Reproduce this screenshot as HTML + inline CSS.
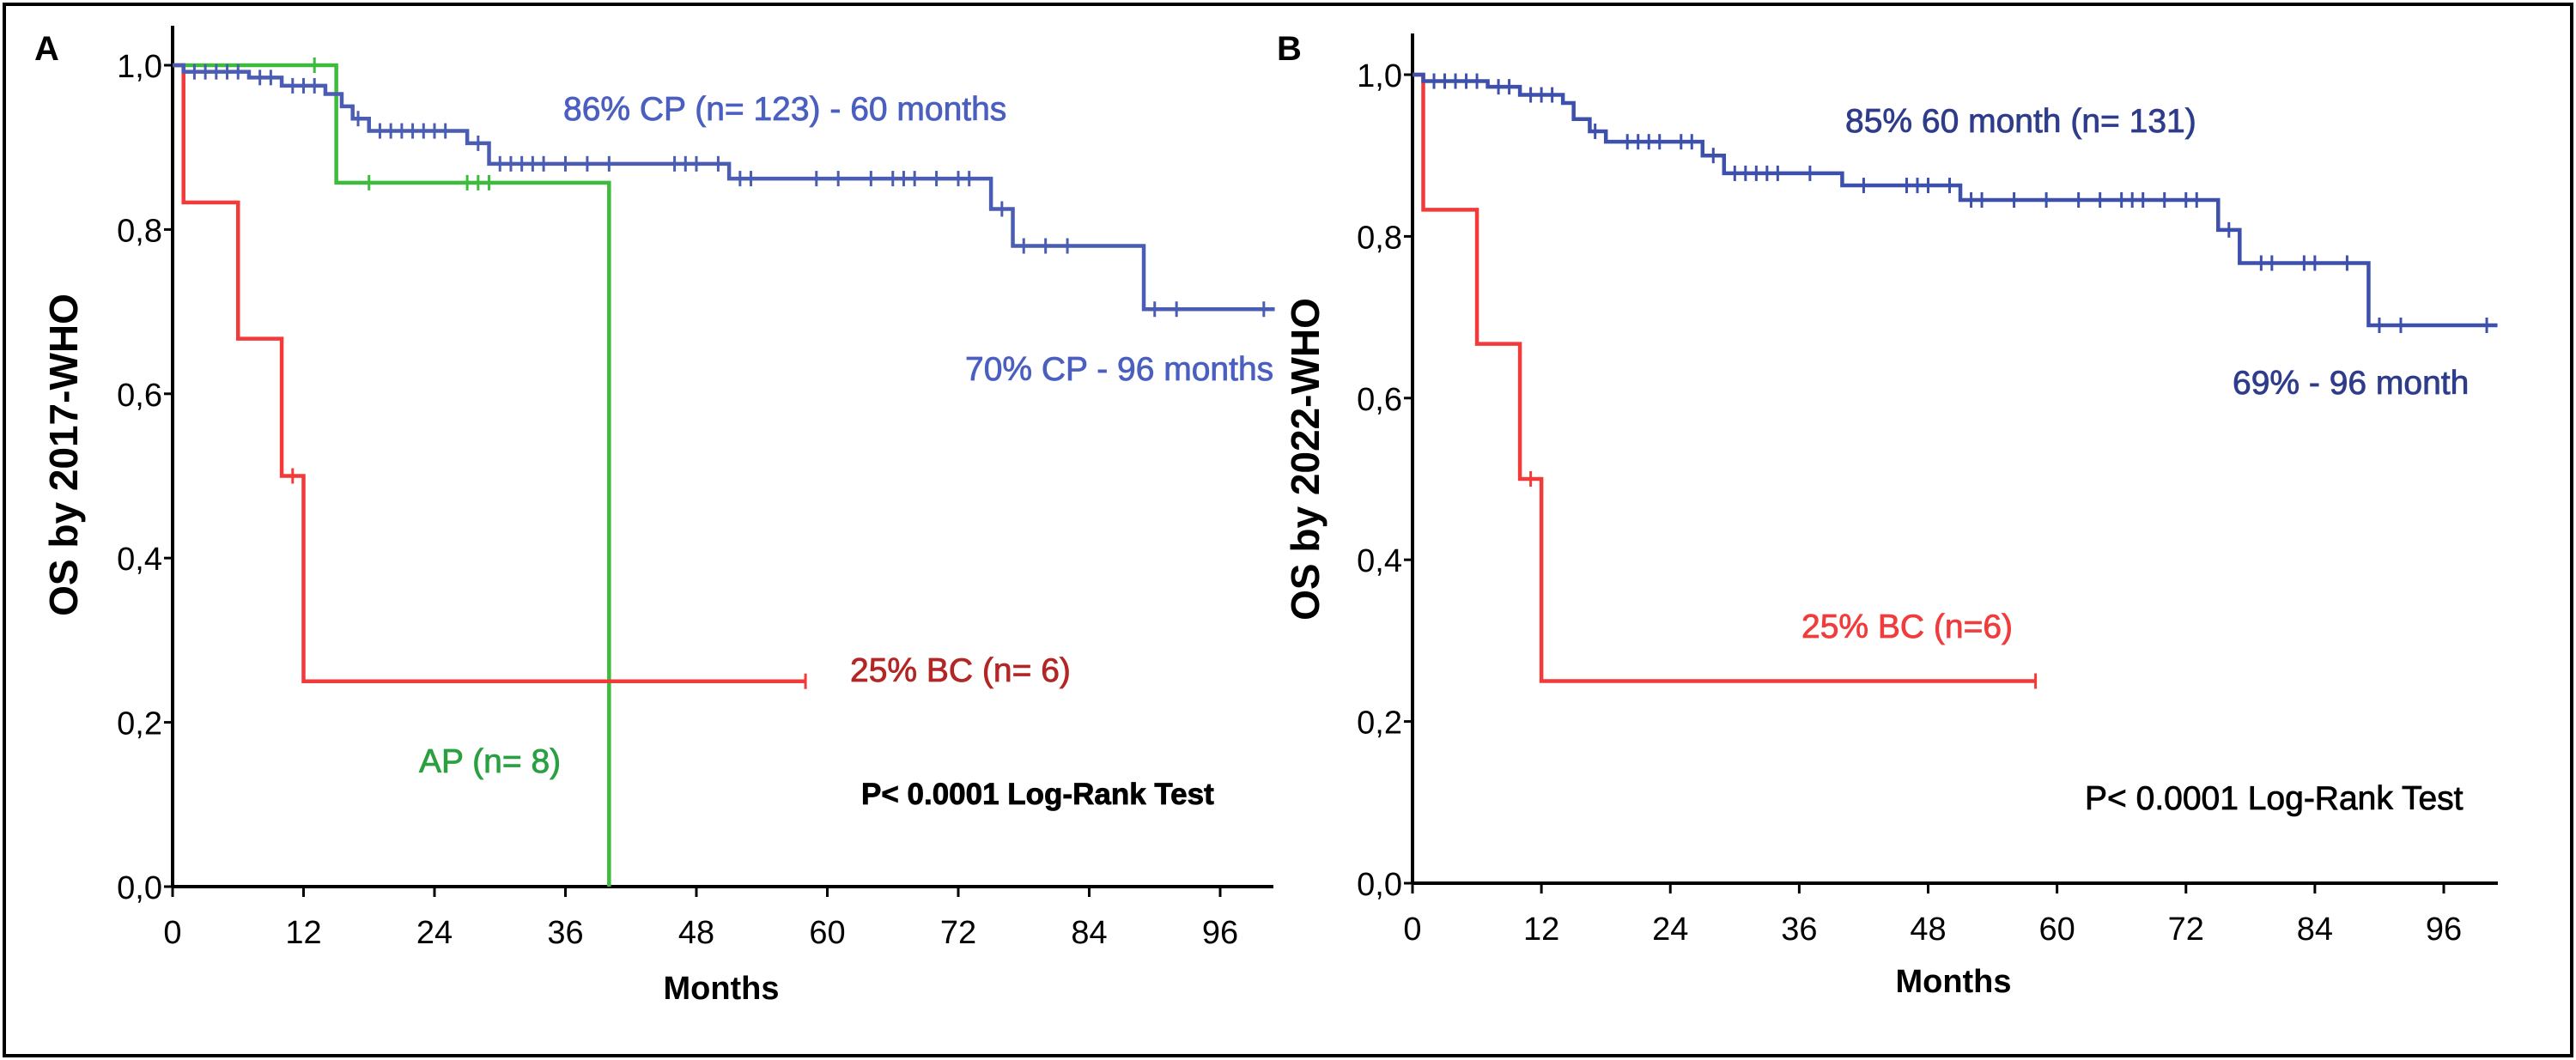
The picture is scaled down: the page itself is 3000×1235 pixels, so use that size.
<!DOCTYPE html>
<html><head><meta charset="utf-8"><style>
html,body{margin:0;padding:0;background:#fff}
svg{display:block;font-family:"Liberation Sans",Arial,sans-serif}
</style></head><body>
<svg id="fig" width="3000" height="1235" viewBox="0 0 3000 1235" xmlns="http://www.w3.org/2000/svg">
<rect x="5" y="5" width="2990" height="1225" fill="#fff" stroke="#000" stroke-width="4"/>
<g id="pa"></g>
<g id="pb"></g>
</svg>
<script>
// ---- Data ----
const xTicks = [0,12,24,36,48,60,72,84,96];
const yTicks = [0,0.2,0.4,0.6,0.8,1.0];
const yTickLabels = ["0,0","0,2","0,4","0,6","0,8","1,0"];
// Panel A
const aCpTimes = [0,1,7,10,14,15.5,16.5,18,27,29,51,75,77,89,101];
const aCpSurv  = [1,0.992,0.985,0.975,0.965,0.95,0.935,0.92,0.905,0.88,0.862,0.825,0.78,0.703,0.703];
const aCpCens  = [2,3,4,5,6,8,9,11,12,13,17,19,20,21,22,23,24,25,28,30,31,32,33,34,36,38,40,46,47,48,50,52,53,59,61,64,66,67,68,70,72,73,76,78,80,82,90,92,100];
const aApTimes = [0,15,40,40];
const aApSurv  = [1,0.857,0,0];
const aApCens  = [13,18,27,28,29];
const aBcTimes = [0,1,6,10,12,58];
const aBcSurv  = [1,0.833,0.667,0.5,0.25,0.25];
const aBcCens  = [11,58];
// Panel B
const bCpTimes = [0,1,7,10,14,15,16.5,18,27,29,40,51,75,77,89,101];
const bCpSurv  = [1,0.992,0.985,0.975,0.965,0.945,0.93,0.917,0.9,0.878,0.863,0.845,0.808,0.767,0.69,0.69];
const bCpCens  = [2,3,4,5,6,8,9,11,12,13,17,20,21,22,23,25,26,28,30,31,32,33,34,37,42,46,47,48,50,52,53,56,59,62,64,66,67,68,70,72,73,76,79,80,83,84,87,90,92,100];
const bBcTimes = [0,1,6,10,12,58];
const bBcSurv  = [1,0.833,0.667,0.5,0.25,0.25];
const bBcCens  = [11,58];

const NS="http://www.w3.org/2000/svg";
function mk(parent,tag,attrs,text){
  const e=document.createElementNS(NS,tag);
  for(const k in attrs) e.setAttribute(k,attrs[k]);
  if(text!==undefined) e.textContent=text;
  parent.appendChild(e); return e;
}
function panel(g,P){
  const X=m=>P.x0+m*(P.x96-P.x0)/96;
  const Y=s=>P.y0+s*(P.y1-P.y0);
  const ya=mk(g,'line',{x1:P.x0,y1:P.yTop,x2:P.x0,y2:P.y0,stroke:'#000','stroke-width':4});
  
  
  const xa=mk(g,'line',{x1:P.x0,y1:P.y0,x2:P.xEnd,y2:P.y0,stroke:'#000','stroke-width':4});
  
  
  yTicks.forEach((v,i)=>{
    mk(g,'line',{x1:P.x0-10,y1:Y(v),x2:P.x0,y2:Y(v),stroke:'#000','stroke-width':3});
    const t=mk(g,'text',{x:P.x0-12,y:Y(v)+14,'text-anchor':'end','font-size':38,fill:'#000'},yTickLabels[i]);
    
    
  });
  xTicks.forEach(v=>{
    mk(g,'line',{x1:X(v),y1:P.y0,x2:X(v),y2:P.y0+12,stroke:'#000','stroke-width':3});
    const t=mk(g,'text',{x:X(v),y:P.y0+66,'text-anchor':'middle','font-size':38,fill:'#000'},String(v));
    
    
  });
  const xt=mk(g,'text',{x:P.monthsX,y:P.monthsY,'text-anchor':'middle','font-size':38,'font-weight':'bold',fill:'#000'},'Months');
  
  
  const yt=mk(g,'text',{x:0,y:0,'text-anchor':'middle','font-size':46,'font-weight':'bold',fill:'#000',transform:`translate(${P.ytX},${P.ytY}) rotate(-90)`},P.ytitle);
  
  
  const pl=mk(g,'text',{x:P.letterX,y:70,'font-size':40,'font-weight':'bold',fill:'#000'},P.letter);
  
  
  P.series.forEach(s=>{
    let d=`M${X(s.t[0])},${Y(s.s[0])}`;
    for(let i=1;i<s.t.length;i++){ d+=` H${X(s.t[i])} V${Y(s.s[i])}`; }
    const p=mk(g,'path',{d:d,fill:'none',stroke:s.c,'stroke-width':4.5});
    
    
    s.cens.forEach(ct=>{
      let sv=s.s[0];
      for(let i=0;i<s.t.length;i++){ if(s.t[i]<=ct) sv=s.s[i]; }
      const m=mk(g,'line',{x1:X(ct),y1:Y(sv)-9,x2:X(ct),y2:Y(sv)+9,stroke:s.c,'stroke-width':3});
      
      
    });
  });
  P.labels.forEach(l=>{
    const t=mk(g,'text',{x:l.x,y:l.y,'font-size':l.fs||38,'font-weight':l.fw||'normal',fill:l.c,stroke:l.c,'stroke-width':0.8},l.txt);
    
    
  });
}
panel(document.getElementById('pa'),{
  x0:201,x96:1421,xEnd:1483,y0:1033,y1:76,yTop:30,
  monthsX:840,monthsY:1164,ytX:90,ytY:530,ytitle:'OS by 2017-WHO',letter:'A',letterX:40,
  series:[
    {name:'ap',t:aApTimes,s:aApSurv,cens:aApCens,c:'#3dbb3d'},
    {name:'bc',t:aBcTimes,s:aBcSurv,cens:aBcCens,c:'#f23a3a'},
    {name:'cp',t:aCpTimes,s:aCpSurv,cens:aCpCens,c:'#4a5db3'}
  ],
  labels:[
    {txt:'86% CP (n= 123) - 60 months',x:656,y:140,c:'#4a5fc0',fs:39,name:'cp-60-label'},
    {txt:'70% CP - 96 months',x:1124,y:443,c:'#4a5fc0',fs:39,name:'cp-96-label'},
    {txt:'25% BC (n= 6)',x:990,y:794,c:'#b32626',fs:39,name:'bc-label'},
    {txt:'AP (n= 8)',x:488,y:900,c:'#2aa040',fs:39,name:'ap-label'},
    {txt:'P< 0.0001 Log-Rank Test',x:1003,y:937,c:'#000',fs:35,fw:'bold',name:'p-value-label'}
  ]
});
panel(document.getElementById('pb'),{
  x0:1645,x96:2846,xEnd:2909,y0:1029,y1:87,yTop:39,
  monthsX:2275,monthsY:1156,ytX:1536,ytY:535,ytitle:'OS by 2022-WHO',letter:'B',letterX:1487,
  series:[
    {name:'bc',t:bBcTimes,s:bBcSurv,cens:bBcCens,c:'#f23a3a'},
    {name:'cp',t:bCpTimes,s:bCpSurv,cens:bCpCens,c:'#3d50ab'}
  ],
  labels:[
    {txt:'85% 60 month (n= 131)',x:2149,y:154,c:'#2f3c8c',fs:39,name:'cp-60-label'},
    {txt:'69% - 96 month',x:2600,y:459,c:'#2f3c8c',fs:39,name:'cp-96-label'},
    {txt:'25% BC (n=6)',x:2098,y:743,c:'#f03c3c',fs:39,name:'bc-label'},
    {txt:'P< 0.0001 Log-Rank Test',x:2428,y:943,c:'#000',fs:39,name:'p-value-label'}
  ]
});
</script>
</body></html>
